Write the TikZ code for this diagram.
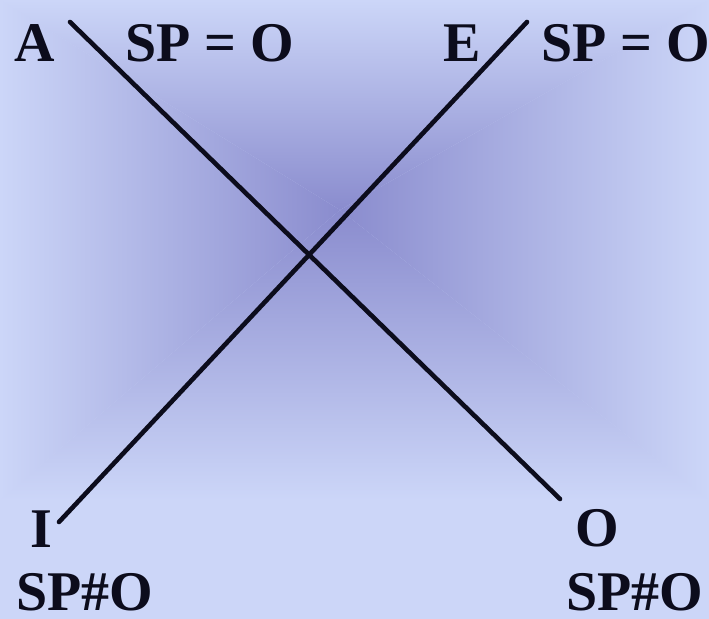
\documentclass[tikz,border=0pt]{standalone}
\usepackage{fontspec}
\setmainfont{Liberation Serif}

\definecolor{bgLight}{RGB}{204,214,248}
\definecolor{bgDark}{RGB}{138,140,206}
\definecolor{inkDark}{RGB}{12,12,28}
\providecommand{\diagthickness}{2.3pt}
\providecommand{\labelsize}{\fontsize{28}{30}\selectfont\bfseries}

\begin{document}
\begin{tikzpicture}[
    x=0.5pt, y=-0.5pt,
    % Line and label styles
    square_line/.style={
        line width=\diagthickness,
        draw=inkDark,
        line cap=round
    },
    corner_label/.style={
        font=\labelsize,
        text=inkDark,
        inner sep=0pt,
        anchor=base
    }
]

    % ==================== BACKGROUND: rectangular gradient ====================
    \useasboundingbox (0,0) rectangle (709,619);
    \coordinate (bgc) at (340,210);
    \fill[bgLight] (0,0) rectangle (709,619);
    % top part
    \begin{scope}
        \clip (bgc) -- (0,0) -- (709,0) -- cycle;
        \shade[top color=bgLight, bottom color=bgDark] (0,0) rectangle (709,210);
    \end{scope}
    % bottom part
    \begin{scope}
        \clip (bgc) -- (0,500) -- (709,500) -- cycle;
        \shade[top color=bgDark, bottom color=bgLight] (0,210) rectangle (709,500);
    \end{scope}
    % left part
    \begin{scope}
        \clip (bgc) -- (0,0) -- (0,500) -- cycle;
        \shade[left color=bgLight, right color=bgDark] (0,0) rectangle (340,500);
    \end{scope}
    % right part
    \begin{scope}
        \clip (bgc) -- (709,0) -- (709,500) -- cycle;
        \shade[left color=bgDark, right color=bgLight] (340,0) rectangle (709,500);
    \end{scope}

    % ==================== DIAGONALS ====================
    \coordinate (aEnd) at (70,22);
    \coordinate (oEnd) at (560,499);
    \coordinate (eEnd) at (527,22);
    \coordinate (iEnd) at (59,522);

    \draw[square_line] (aEnd) -- (oEnd);
    \draw[square_line] (eEnd) -- (iEnd);

    % ==================== CORNER LABELS ====================
    \node[corner_label] (labA)  at (35,62)   {A};
    \node[corner_label] (condA) at (210,62)  {SP = O};
    \node[corner_label] (labE)  at (462,62)  {E};
    \node[corner_label] (condE) at (626,62)  {SP = O};

    \node[corner_label] (labI)  at (41,548)  {I};
    \node[corner_label] (condI) at (85,611)  {SP\#O};
    \node[corner_label] (labO)  at (597,547) {O};
    \node[corner_label] (condO) at (635,611) {SP\#O};

\end{tikzpicture}
\end{document}
